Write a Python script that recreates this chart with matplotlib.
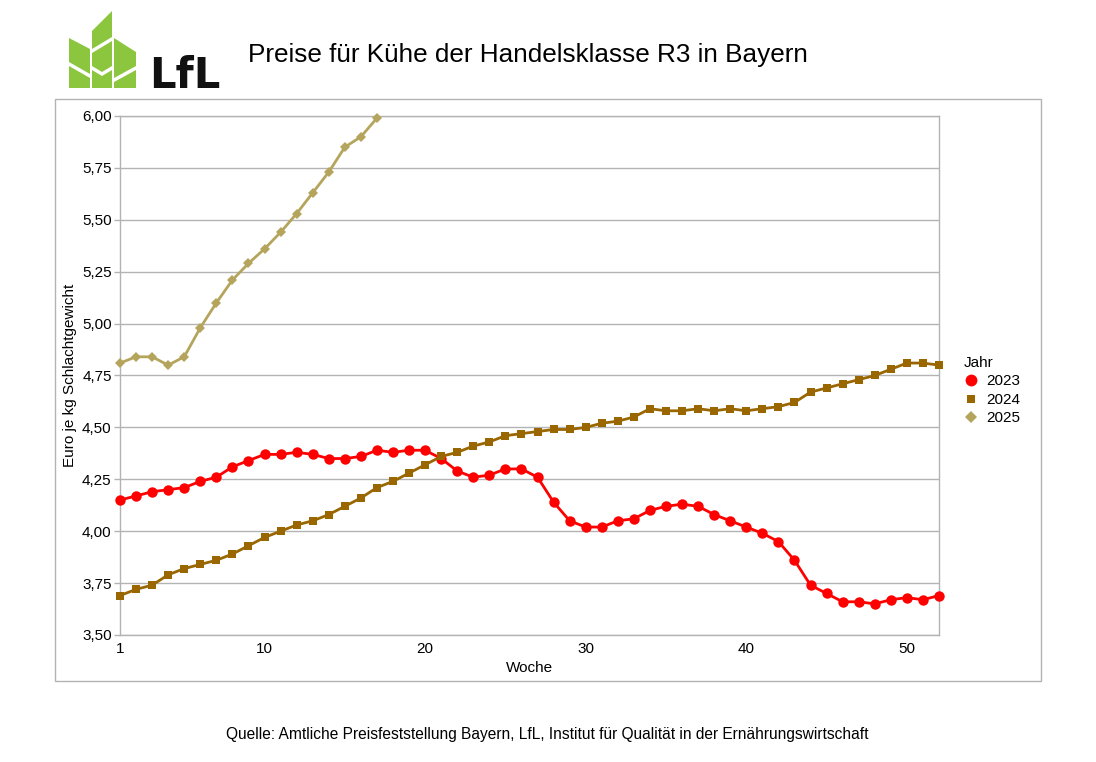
import matplotlib
matplotlib.use("Agg")
import matplotlib.pyplot as plt
from matplotlib.lines import Line2D
from matplotlib.patches import Polygon, Rectangle
import numpy as np

plt.rcParams['font.family'] = ['Liberation Sans', 'DejaVu Sans']

weeks = list(range(1, 53))
prices_2023 = [4.15, 4.17, 4.19, 4.20, 4.21, 4.24, 4.26, 4.31, 4.34, 4.37,
               4.37, 4.38, 4.37, 4.35, 4.35, 4.36, 4.39, 4.38, 4.39, 4.39,
               4.35, 4.29, 4.26, 4.27, 4.30, 4.30, 4.26, 4.14, 4.05, 4.02,
               4.02, 4.05, 4.06, 4.10, 4.12, 4.13, 4.12, 4.08, 4.05, 4.02,
               3.99, 3.95, 3.86, 3.74, 3.70, 3.66, 3.66, 3.65, 3.67, 3.68,
               3.67, 3.69]
prices_2024 = [3.69, 3.72, 3.74, 3.79, 3.82, 3.84, 3.86, 3.89, 3.93, 3.97,
               4.00, 4.03, 4.05, 4.08, 4.12, 4.16, 4.21, 4.24, 4.28, 4.32,
               4.36, 4.38, 4.41, 4.43, 4.46, 4.47, 4.48, 4.49, 4.49, 4.50,
               4.52, 4.53, 4.55, 4.59, 4.58, 4.58, 4.59, 4.58, 4.59, 4.58,
               4.59, 4.60, 4.62, 4.67, 4.69, 4.71, 4.73, 4.75, 4.78, 4.81,
               4.81, 4.80]
prices_2025 = [4.81, 4.84, 4.84, 4.80, 4.84, 4.98, 5.10, 5.21, 5.29, 5.36,
               5.44, 5.53, 5.63, 5.73, 5.85, 5.90, 5.99]
series_labels = ['2023', '2024', '2025']
x_ticks = [1, 10, 20, 30, 40, 50]
y_ticks = [3.50, 3.75, 4.00, 4.25, 4.50, 4.75, 5.00, 5.25, 5.50, 5.75, 6.00]

W, H = 1096, 762
fig = plt.figure(figsize=(W / 100, H / 100), dpi=100)
fig.patch.set_facecolor('white')

def fx(px):
    return px / W

def fy(py):
    return 1 - py / H

grey = '#b3b3b3'

# outer frame
fig.patches.append(Rectangle((fx(55), fy(681)), fx(1041) - fx(55), fy(99) - fy(681),
                             transform=fig.transFigure, fill=False,
                             edgecolor=grey, linewidth=1.0))

ax = fig.add_axes([fx(120), fy(635), fx(939) - fx(120), fy(116) - fy(635)])

styles = [
    dict(color='#ff0000', marker='o', markersize=7.5),
    dict(color='#996600', marker='s', markersize=5.4),
    dict(color='#b5a55c', marker='D', markersize=5.2),
]
data = [prices_2023, prices_2024, prices_2025]
for vals, st in zip(data, styles):
    ax.plot(weeks[:len(vals)], vals, linewidth=2.0, clip_on=False, zorder=3,
            markeredgewidth=0, **st)

ax.set_xlim(1, 52)
ax.set_ylim(3.5, 6.0)
ax.set_xticks(x_ticks)
ax.set_yticks(y_ticks)
ax.set_yticklabels([f"{v:.2f}".replace('.', ',') for v in y_ticks])
ax.tick_params(axis='y', length=4, color=grey, width=1, labelsize=11, pad=2)
ax.tick_params(axis='x', length=0, labelsize=11, pad=5)
ax.grid(axis='y', color=grey, linewidth=1)
ax.set_axisbelow(True)
for s in ax.spines.values():
    s.set_color(grey)
    s.set_linewidth(1)

fig.text(fx(70), fy(375), 'Euro je kg Schlachtgewicht', rotation=90,
         ha='center', va='center', fontsize=11)
fig.text(fx(529), fy(668), 'Woche', ha='center', va='center', fontsize=11)

# legend
handles = [Line2D([], [], linestyle='none', color=st['color'], marker=st['marker'],
                  markersize=st['markersize'] + 1, markeredgewidth=0) for st in styles]
leg = fig.legend(handles, series_labels, title='Jahr', loc='upper left',
                 bbox_to_anchor=(fx(953), fy(345)), frameon=False, fontsize=11,
                 title_fontsize=11, alignment='left', handlelength=1.0,
                 handletextpad=0.45, labelspacing=0.3, borderpad=0.2)

# title
fig.text(fx(528), fy(55), 'Preise für Kühe der Handelsklasse R3 in Bayern',
         ha='center', va='center', fontsize=18.8)

# source
fig.text(fx(547), fy(735),
         'Quelle: Amtliche Preisfeststellung Bayern, LfL, Institut für Qualität in der Ernährungswirtschaft',
         ha='center', va='center', fontsize=11.2)

# logo
green = '#8cc63f'
leaves = [
    [(69, 38), (90, 49), (90, 74), (69, 62)],
    [(69, 66), (90, 78), (90, 88), (69, 88)],
    [(92, 31), (112, 11), (112, 37), (92, 49)],
    [(92, 53), (112, 41), (112, 66), (102, 72), (92, 66)],
    [(92, 70), (102, 76), (112, 70), (112, 88), (92, 88)],
    [(114, 38), (136, 52), (136, 66), (114, 78)],
    [(114, 82), (136, 70), (136, 88), (114, 88)],
]
for pts in leaves:
    fig.patches.append(Polygon([(fx(a), fy(b)) for a, b in pts], closed=True,
                               transform=fig.transFigure, facecolor=green,
                               edgecolor='none'))
fig.text(fx(149), fy(88), 'LfL', ha='left', va='baseline', fontsize=30,
         fontweight='bold', family='DejaVu Sans', color='#111111')

fig.savefig('out.png', dpi=100)
